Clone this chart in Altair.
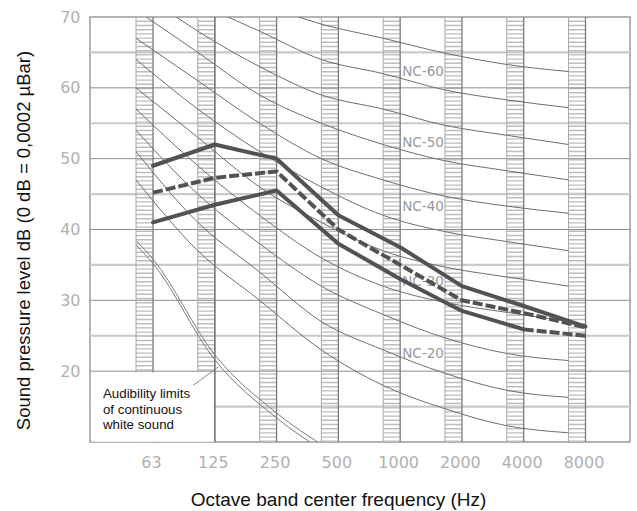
import json
import altair as alt
import pandas as pd

# ---------------- data ----------------
freq_labels = ["63", "125", "250", "500", "1000", "2000", "4000", "8000"]
octave = [0, 1, 2, 3, 4, 5, 6, 7]

# NC curves (dB per octave band)
nc_names = ["NC-15", "NC-20", "NC-25", "NC-30", "NC-35", "NC-40",
            "NC-45", "NC-50", "NC-55", "NC-60", "NC-65"]
nc_15 = [47, 37, 30, 23, 18, 14.7, 12.3, 11.3]
nc_20 = [51, 41, 34, 27, 23, 19.7, 17.3, 16.3]
nc_25 = [54, 45, 38, 32, 28, 24.7, 22.5, 21.5]
nc_30 = [57, 49, 42, 36, 32, 29.7, 28.3, 27]
nc_35 = [60, 53, 46, 41, 37, 34.7, 33.3, 32]
nc_40 = [64, 57, 51, 46, 42, 39.7, 38.3, 37]
nc_45 = [67, 61, 55, 50, 47, 44.7, 43.3, 42.3]
nc_50 = [71, 65, 59, 55, 52, 49.7, 48.3, 47]
nc_55 = [74, 68, 63, 59, 57, 54.7, 53.3, 52]
nc_60 = [77, 72, 68, 64, 62, 59.7, 58.3, 57.2]
nc_65 = [80, 76, 72, 69, 67, 64.9, 63.3, 62.3]
nc_all = [nc_15, nc_20, nc_25, nc_30, nc_35, nc_40, nc_45, nc_50, nc_55, nc_60, nc_65]

# measured spectra (thick lines)
spec_top = [49, 52, 50, 42, 37.5, 32, 29.2, 26.3]
spec_mid = [45.2, 47.3, 48.2, 40, 35, 30, 28.2, 26.2]
spec_low = [41, 43.5, 45.5, 38, 33, 28.5, 25.9, 25]

# audibility limit of continuous white sound (double thin line)
aud_pos = [-0.27, 0, 1, 2, 3]
aud_inner = [37.8, 35.2, 21.6, 13.4, 7.5]
aud_outer = [38.4, 35.8, 22.3, 14.1, 8.2]

nc_label_names = ["NC-60", "NC-50", "NC-40", "NC-30", "NC-20"]
nc_label_db = [62.3, 52.2, 43.2, 32.6, 22.4]

note_lines = ["Audibility limits", "of continuous", "white sound"]

y_ticks = [20, 30, 40, 50, 60, 70]
major_grid = [20, 30, 40, 50, 60]
minor_grid = [15, 25, 35, 45, 55, 65]

BAND = 0.275          # width of a hatched octave band (in octaves)
X_DOM = [-1.02, 7.72]
Y_DOM = [10, 70]

# ---------------- scales / axes ----------------
xs = alt.Scale(domain=X_DOM, nice=False, zero=False)
ys = alt.Scale(domain=Y_DOM, nice=False, zero=False)

x_axis = alt.Axis(values=octave, labelExpr=json.dumps(freq_labels) + "[datum.value]",
                  title="Octave band center frequency (Hz)",
                  labelPadding=12, labelOffset=-2,
                  titleX=248, titleY=63, titleAlign="center", titleBaseline="alphabetic",
                  titleFontSize=19)
y_axis = alt.Axis(values=y_ticks, title="Sound pressure level dB (0 dB = 0,0002 µBar)",
                  labelPadding=10, titleX=-61, titleY=223, titleAngle=270,
                  titleAlign="center", titleBaseline="alphabetic", titleFontSize=18.5)


def X(field, **kw):
    return alt.X(field, type="quantitative", scale=xs, axis=x_axis, **kw)


def Y(field, **kw):
    return alt.Y(field, type="quantitative", scale=ys, axis=y_axis, **kw)


# ---------------- tables ----------------
bands = pd.DataFrame({"o": octave})
bands["mid"] = bands["o"] - BAND / 2
bands["left"] = bands["o"] - BAND
bands["y0"] = Y_DOM[0]
bands["y1"] = Y_DOM[1]

grid_major = pd.DataFrame({"v": major_grid})
grid_minor = pd.DataFrame({"v": minor_grid})

nc_rows = []
for name, vals in zip(nc_names, nc_all):
    for o, v in zip(octave, vals):
        nc_rows.append({"curve": name, "pos": o - BAND, "db": v})
nc_df = pd.DataFrame(nc_rows)

aud_rows = []
for p, a, b in zip(aud_pos, aud_inner, aud_outer):
    aud_rows.append({"curve": "inner", "pos": p, "db": a})
    aud_rows.append({"curve": "outer", "pos": p, "db": b})
aud_df = pd.DataFrame(aud_rows)

solid_rows, dash_rows = [], []
for o, v in zip(octave, spec_top):
    solid_rows.append({"s": "top", "o": o, "db": v})
for o, v in zip(octave[:7], spec_low[:7]):
    solid_rows.append({"s": "low", "o": o, "db": v})
for o, v in zip(octave, spec_mid):
    dash_rows.append({"s": "mid", "o": o, "db": v})
for o, v in zip(octave[6:], spec_low[6:]):
    dash_rows.append({"s": "low_end", "o": o, "db": v})
solid_df = pd.DataFrame(solid_rows)
dash_df = pd.DataFrame(dash_rows)

label_df = pd.DataFrame({"t": nc_label_names, "db": nc_label_db,
                         "pos": [4.37] * len(nc_label_names)})

# ---------------- layers ----------------
hatch = alt.Chart(bands).mark_rule(color="#bdbdbd", strokeWidth=17,
                                   strokeDash=[1.4, 2.8], strokeCap="butt").encode(
    x=X("mid"), y=Y("y0"), y2="y1")

left_edges = alt.Chart(bands).mark_rule(color="#a9a9a9", strokeWidth=1).encode(
    x=X("left"), y=Y("y0"), y2="y1")
right_edges = alt.Chart(bands).mark_rule(color="#7a7a7a", strokeWidth=1.3).encode(
    x=X("o"), y=Y("y0"), y2="y1")

minor = alt.Chart(grid_minor).mark_rule(color="#c9c9c9", strokeWidth=2.2).encode(y=Y("v"))
major = alt.Chart(grid_major).mark_rule(color="#8c8c8c", strokeWidth=1).encode(y=Y("v"))

nc_lines = alt.Chart(nc_df).mark_line(color="#6e6e6e", strokeWidth=1, clip=True,
                                      interpolate="monotone").encode(
    x=X("pos"), y=Y("db"), detail="curve:N")

aud_lines = alt.Chart(aud_df).mark_line(color="#7a7a7a", strokeWidth=1, clip=True,
                                        interpolate="monotone").encode(
    x=X("pos"), y=Y("db"), detail="curve:N")

box = alt.Chart(pd.DataFrame({"x0": [-1.0], "x1": [0.985], "y0": [10.05], "y1": [19.85]})) \
    .mark_rect(fill="white", clip=True).encode(x=X("x0"), x2="x1", y=Y("y0"), y2="y1")

edge_125 = alt.Chart(bands[bands["o"] == 1]).mark_rule(color="#7a7a7a", strokeWidth=1.3).encode(
    x=X("o"), y=Y("y0"), y2="y1")

pointer = alt.Chart(pd.DataFrame({"x0": [0.65], "x1": [1.056], "y0": [18.0], "y1": [20.6]})) \
    .mark_rule(color="#888888", strokeWidth=1).encode(x=X("x0"), x2="x1", y=Y("y0"), y2="y1")

note = alt.Chart(pd.DataFrame({"pos": [-0.81], "db": [16.75], "t": [note_lines]})).mark_text(
    align="left", baseline="middle", font="Liberation Sans", fontSize=13.3,
    lineHeight=15.5, color="#111111").encode(x=X("pos"), y=Y("db"), text="t")

nc_text = alt.Chart(label_df).mark_text(align="center", baseline="middle", font="DejaVu Sans",
                                        fontSize=13.5, color="#9a9a9a").encode(
    x=X("pos"), y=Y("db"), text="t:N")

solid = alt.Chart(solid_df).mark_line(color="#525252", strokeWidth=4, strokeJoin="round",
                                      strokeCap="round").encode(
    x=X("o"), y=Y("db"), detail="s:N")
dashed = alt.Chart(dash_df).mark_line(color="#525252", strokeWidth=4, strokeDash=[10, 3],
                                      strokeJoin="round").encode(
    x=X("o"), y=Y("db"), detail="s:N")

chart = alt.layer(
    hatch, minor, major, left_edges, right_edges, nc_lines, aud_lines,
    box, edge_125, pointer, note, nc_text, dashed, solid
).properties(
    width=540, height=425,
    padding={"left": 90, "top": 17, "right": 7, "bottom": 69},
    autosize="none", background="white"
).configure_view(
    stroke="#9a9a9a", strokeWidth=1.5
).configure_axis(
    domain=False, ticks=False, grid=False,
    labelFont="DejaVu Sans", labelFontSize=16, labelColor="#b0b0b0",
    titleFont="Liberation Sans", titleFontWeight="normal", titleColor="#111111"
)

chart.save("out.html", embed_options={"renderer": "svg", "actions": False})
